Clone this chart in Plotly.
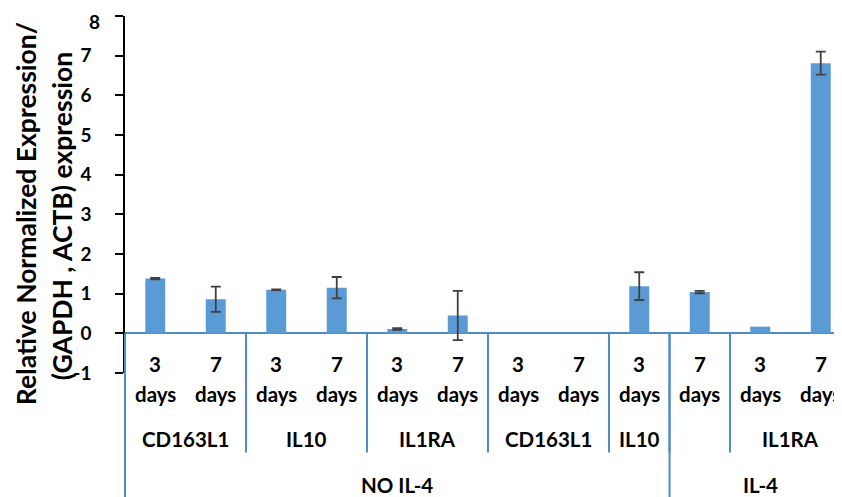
import plotly.graph_objects as go

# ---- data ----
days_num = ["3", "7", "3", "7", "3", "7", "3", "7", "3", "7", "3", "7"]
day_word = "days"
values = [1.38, 0.86, 1.10, 1.15, 0.11, 0.45, 0.0, 0.0, 1.19, 1.04, 0.17, 6.81]
errors = [0.02, 0.32, 0.01, 0.27, 0.02, 0.62, None, None, 0.35, 0.03, None, 0.29]
gene_labels = ["CD163L1", "IL10", "IL1RA", "CD163L1", "IL10", "", "IL1RA"]
gene_spans = [2, 2, 2, 2, 1, 1, 2]
treat_labels = ["NO IL-4", "IL-4"]
treat_spans = [9, 3]
y_ticks = [-1, 0, 1, 2, 3, 4, 5, 6, 7, 8]
y_ticktext = ["-1", "0", "1", "2", "3", "4", "5", "6", "7", "8"]
y_title_1 = "Relative Normalized Expression/"
y_title_2 = "(GAPDH , ACTB) expression"

# ---- geometry (viewport pixels; page body adds an 8px offset) ----
OFF = 8
VW, VH = 842, 497
W, H = VW - OFF, VH - OFF
PLOT_LEFT, PLOT_TOP, PLOT_BOTTOM, PLOT_RIGHT = 125, 16, 372.6, 842
PH = PLOT_BOTTOM - PLOT_TOP
PW = PLOT_RIGHT - PLOT_LEFT
ML = PLOT_LEFT - OFF
MT = PLOT_TOP - OFF
MB = VH - PLOT_BOTTOM
MR = VW - PLOT_RIGHT


def py(p):
    return (PLOT_BOTTOM - p) / PH


def px(p):
    return (p - PLOT_LEFT) / PW


n = len(values)
xs = list(range(n))
BAR = "#5B9BD5"
SEP = "#4F8BC9"
FONT = "Lato"

fig = go.Figure()
fig.add_trace(go.Bar(x=xs, y=values, width=0.33, marker=dict(color=BAR, line=dict(width=0)),
                     hoverinfo="skip"))
ex = [x for x, e in zip(xs, errors) if e is not None]
ey = [v for v, e in zip(values, errors) if e is not None]
ee = [e for e in errors if e is not None]
fig.add_trace(go.Scatter(x=ex, y=ey, mode="markers", marker=dict(size=1, opacity=0),
                         error_y=dict(type="data", array=ee, visible=True, color="#404040",
                                      thickness=1.8, width=5), hoverinfo="skip"))

annotations = []
shapes = []
lab_font = dict(family=FONT, size=20.5, color="black", weight="bold")
for i in xs:
    annotations.append(dict(x=i, y=py(364), xref="x", yref="paper", text=days_num[i],
                            showarrow=False, font=lab_font, xanchor="center", yanchor="middle"))
    annotations.append(dict(x=i, y=py(394), xref="x", yref="paper", text=day_word,
                            showarrow=False, font=lab_font, xanchor="center", yanchor="middle"))
start = 0
for lab, sp in zip(gene_labels, gene_spans):
    c = start + (sp - 1) / 2
    if lab:
        annotations.append(dict(x=c, y=py(439), xref="x", yref="paper", text=lab,
                                showarrow=False, font=lab_font, xanchor="center", yanchor="middle"))
    start += sp
    if start < n:
        shapes.append(dict(type="line", xref="x", yref="paper", x0=start - 0.5, x1=start - 0.5,
                           y0=py(333), y1=py(452), line=dict(color=SEP, width=2), layer="above"))
start = 0
for lab, sp in zip(treat_labels, treat_spans):
    c = start + (sp - 1) / 2
    annotations.append(dict(x=c, y=py(484), xref="x", yref="paper", text=lab,
                            showarrow=False, font=lab_font, xanchor="center", yanchor="middle"))
    start += sp
    if start < n:
        shapes.append(dict(type="line", xref="x", yref="paper", x0=start - 0.5, x1=start - 0.5,
                           y0=py(333), y1=py(505), line=dict(color=SEP, width=2), layer="above"))
# left border of category axis
shapes.append(dict(type="line", xref="paper", yref="paper", x0=0, x1=0,
                   y0=py(333), y1=py(505), line=dict(color=SEP, width=2), layer="above"))

# top tick label sits a little lower than its tick (as in the reference)
tick_font = dict(family=FONT, size=19, color="black", weight="bold")
tt = list(y_ticktext)
top_label = tt[-1]
tt[-1] = ""
annotations.append(dict(x=px(102), y=py(21), xref="paper", yref="paper", text=top_label,
                        showarrow=False, font=tick_font, xanchor="right", yanchor="middle"))

title_font = dict(family=FONT, size=26.5, color="black", weight="bold")
annotations.append(dict(x=px(26), y=py(214), xref="paper", yref="paper", text=y_title_1,
                        textangle=-90, showarrow=False, font=title_font,
                        xanchor="center", yanchor="middle"))
annotations.append(dict(x=px(62), y=py(216), xref="paper", yref="paper", text=y_title_2,
                        textangle=-90, showarrow=False, font=title_font,
                        xanchor="center", yanchor="middle"))

fig.update_layout(
    width=W, height=H, autosize=False,
    margin=dict(l=ML, r=MR, t=MT, b=MB, pad=0),
    plot_bgcolor="white", paper_bgcolor="white",
    showlegend=False,
    annotations=annotations, shapes=shapes,
    xaxis=dict(range=[-0.5, -0.5 + PW / 60.5], showticklabels=False, showgrid=False,
               zeroline=False, showline=False, ticks=""),
    yaxis=dict(range=[-1, 8], tickvals=y_ticks, ticktext=tt, showgrid=False,
               zeroline=True, zerolinecolor=SEP, zerolinewidth=2,
               showline=True, linecolor="black", linewidth=1.5,
               ticks="outside", ticklen=8, tickwidth=1.5, tickcolor="black",
               tickfont=tick_font, ticklabelstandoff=20),
)

fig.write_html("out.html")
